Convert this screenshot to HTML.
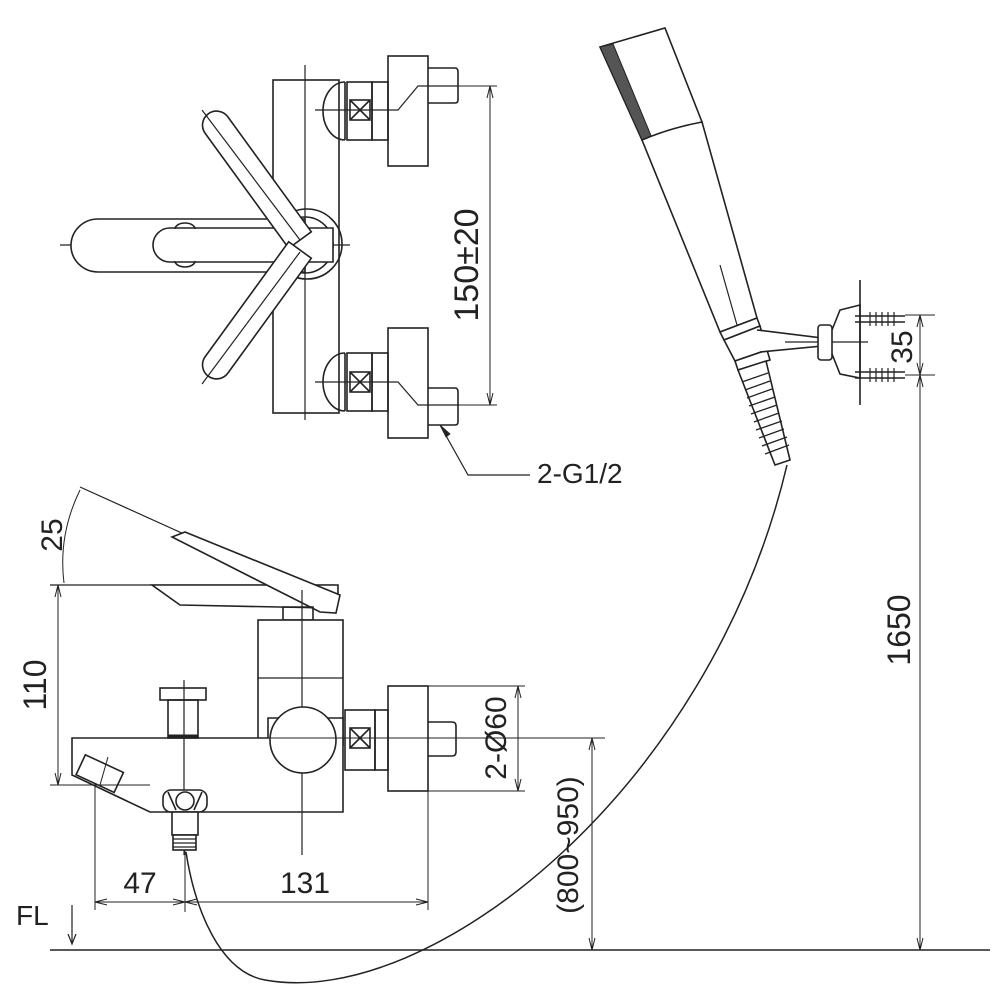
<!DOCTYPE html>
<html><head><meta charset="utf-8"><style>html,body{margin:0;padding:0;background:#fff}svg{display:block}</style></head>
<body>
<svg width="1000" height="1000" viewBox="0 0 1000 1000" xmlns="http://www.w3.org/2000/svg" font-family="Liberation Sans, sans-serif" fill="none" stroke="#222" stroke-width="1.6">
<!-- TOP VIEW -->
<rect x="273" y="80" width="66" height="333"/>
<line x1="305" y1="65" x2="305" y2="420" stroke-width="1.2"/>
<line x1="60" y1="245" x2="350" y2="245" stroke-width="1.2"/>
<path d="M98 219 L305 219 L305 272 L98 272 A27 26.5 0 0 1 98 219 Z" fill="#fff"/>
<circle cx="307" cy="244" r="35"/>
<circle cx="305" cy="245" r="28"/>
<path d="M170 228 L333 228 L333 262 L170 262 A17 17 0 0 1 170 228 Z" fill="#fff"/>
<path d="M175 229 A10 6 0 0 1 195 229" /><path d="M175 261 A10 6 0 0 0 195 261"/>
<!-- diagonal handles -->
<g transform="rotate(54 300 240)"><path d="M158 226 L300 226 L300 254 L158 254 A14 14 0 0 1 158 226 Z" fill="#fff"/></g>
<g transform="rotate(-54 300 250)"><path d="M158 236 L300 236 L300 264 L158 264 A14 14 0 0 1 158 236 Z" fill="#fff"/></g>
<line x1="202" y1="110" x2="300" y2="240" stroke-width="1.2"/>
<line x1="202" y1="384" x2="300" y2="252" stroke-width="1.2"/>
<!-- top valve -->
<path d="M345 82 A22 29 0 0 0 345 140" /><line x1="345" y1="82" x2="345" y2="140"/>
<rect x="347" y="82" width="25" height="58"/><rect x="350" y="100" width="20" height="20"/>
<line x1="350" y1="100" x2="370" y2="120"/><line x1="370" y1="100" x2="350" y2="120"/>
<rect x="372" y="82" width="16" height="58"/>
<rect x="388" y="56" width="40" height="110"/>
<path d="M428 68 L455 68 Q458 68 458 72 L458 100 Q458 103 455 103 L428 103"/>
<polyline points="315,110 398,110 418,86 458,86" stroke-width="1.2"/>
<!-- bottom valve -->
<path d="M345 353 A22 29 0 0 0 345 411" /><line x1="345" y1="353" x2="345" y2="411"/>
<rect x="347" y="353" width="25" height="58"/><rect x="350" y="372" width="20" height="20"/>
<line x1="350" y1="372" x2="370" y2="392"/><line x1="370" y1="372" x2="350" y2="392"/>
<rect x="372" y="353" width="16" height="58"/>
<rect x="388" y="328" width="40" height="110"/>
<path d="M428 388 L455 388 Q458 388 458 392 L458 422 Q458 425 455 425 L428 425"/>
<polyline points="315,382 398,382 418,405 458,405" stroke-width="1.2"/>
<!-- 150 dim -->
<line x1="458" y1="86" x2="497" y2="86" stroke-width="1"/><line x1="458" y1="405" x2="497" y2="405" stroke-width="1"/>
<line x1="490" y1="86" x2="490" y2="405" stroke-width="1"/>
<path d="M487 98 L490 86 L493 98 M487 393 L490 405 L493 393" stroke-width="1"/>
<text x="478" y="265" transform="rotate(-90 478 265)" text-anchor="middle" font-size="34" fill="#222" stroke="none">150±20</text>
<polyline points="440,425 468,475 530,475" stroke-width="1.2"/>
<path d="M440 425 L446 437 L450 434 Z" fill="#222" stroke-width="0.8"/>
<text x="537" y="483" font-size="28" fill="#222" stroke="none">2-G1/2</text>

<!-- SIDE VIEW -->
<line x1="50" y1="585" x2="335" y2="585" stroke-width="1.2"/>
<line x1="80" y1="487" x2="330" y2="600" stroke-width="1.2"/>
<path d="M80 490 Q58 535 64 583" stroke-width="1"/>
<text x="62" y="535" transform="rotate(-90 62 535)" text-anchor="middle" font-size="30" fill="#222" stroke="none">25</text>
<polygon points="152,585 338,585 338,598 328,608 180,605" fill="#fff"/>
<polygon points="172,537 185,532 340,595 336,613 320,612" fill="#fff"/>
<path d="M283 607 L313 607 L313 620 L283 620 Z"/>
<rect x="258" y="620" width="85" height="125" fill="#fff"/>
<line x1="258" y1="678" x2="343" y2="678" stroke-width="1.2"/>
<polygon points="72,738 268,738 268,718 343,718 343,812 150,812 72,775" fill="#fff"/>
<line x1="302" y1="590" x2="302" y2="855" stroke-width="1.2"/>
<circle cx="303" cy="740" r="33" fill="#fff"/>
<rect x="345" y="710" width="30" height="60"/><rect x="350" y="728" width="20" height="20"/>
<line x1="350" y1="728" x2="370" y2="748"/><line x1="370" y1="728" x2="350" y2="748"/>
<rect x="375" y="710" width="13" height="60"/>
<rect x="388" y="686" width="40" height="105"/>
<path d="M428 722 L452 722 Q456 722 456 726 L456 752 Q456 756 452 756 L428 756"/>
<line x1="250" y1="738" x2="605" y2="738" stroke-width="1"/>
<!-- diverter -->
<rect x="160" y="688" width="46" height="12"/>
<rect x="168" y="700" width="30" height="38"/>
<line x1="168" y1="736" x2="198" y2="736" stroke-width="3"/>
<line x1="184" y1="680" x2="184" y2="855" stroke-width="1.2"/>
<rect x="163" y="790" width="44" height="22" rx="8" fill="#fff"/>
<circle cx="185" cy="801" r="9"/><path d="M168 792 L176 810 M202 792 L194 810"/>
<rect x="172" y="812" width="26" height="23" fill="#fff"/>
<rect x="173" y="835" width="23" height="15" fill="#fff"/>
<path d="M173 839 H196 M173 843 H196 M173 847 H196" stroke-width="1.2"/>
<!-- nozzle -->
<g transform="rotate(25 98 775)"><rect x="78" y="762" width="42" height="22" fill="#fff"/></g>
<line x1="108" y1="757" x2="100" y2="785" stroke-width="1"/>
<!-- dims -->
<line x1="50" y1="785" x2="150" y2="785" stroke-width="1"/>
<line x1="58" y1="585" x2="58" y2="785" stroke-width="1"/>
<path d="M55 597 L58 585 L61 597 M55 773 L58 785 L61 773" stroke-width="1"/>
<text x="46" y="685" transform="rotate(-90 46 685)" text-anchor="middle" font-size="32" fill="#222" stroke="none">110</text>
<line x1="95" y1="785" x2="95" y2="910" stroke-width="1"/>
<line x1="185" y1="850" x2="185" y2="912" stroke-width="1"/>
<line x1="428" y1="791" x2="428" y2="910" stroke-width="1"/>
<line x1="95" y1="902" x2="428" y2="902" stroke-width="1"/>
<path d="M107 899 L95 902 L107 905 M173 899 L185 902 L173 905 M197 899 L185 902 L197 905 M416 899 L428 902 L416 905" stroke-width="1"/>
<text x="140" y="893" text-anchor="middle" font-size="30" fill="#222" stroke="none">47</text>
<text x="305" y="893" text-anchor="middle" font-size="30" fill="#222" stroke="none">131</text>
<line x1="428" y1="686" x2="525" y2="686" stroke-width="1"/><line x1="428" y1="791" x2="525" y2="791" stroke-width="1"/>
<line x1="518" y1="686" x2="518" y2="791" stroke-width="1"/>
<path d="M515 698 L518 686 L521 698 M515 779 L518 791 L521 779" stroke-width="1"/>
<text x="506" y="738" transform="rotate(-90 506 738)" text-anchor="middle" font-size="30" fill="#222" stroke="none">2-Ø60</text>
<line x1="592" y1="738" x2="592" y2="950" stroke-width="1"/>
<path d="M589 750 L592 738 L595 750 M589 938 L592 950 L595 938" stroke-width="1"/>
<text x="578" y="845" transform="rotate(-90 578 845)" text-anchor="middle" font-size="30" fill="#222" stroke="none">(800~950)</text>
<text x="16" y="925" font-size="28" fill="#222" stroke="none">FL</text>
<line x1="72" y1="905" x2="72" y2="942" stroke-width="1.2"/><path d="M68 934 L72 944 L76 934" stroke-width="1.2"/>
<line x1="50" y1="950" x2="990" y2="950" stroke-width="1.4"/>
<!-- hose -->
<path d="M787 465 C710 790, 430 1010, 265 980 C220 972, 195 910, 186 852" stroke-width="1.5"/>

<!-- SHOWER -->
<polygon points="600,47 665,28 702,122 642,140" fill="#fff"/>
<polygon points="600,47 613,44 652,138 642,140" fill="#555" stroke-width="1"/>
<path d="M642 140 Q670 128 702 122 L757 318 L720 332 Z" fill="#fff"/>
<line x1="720" y1="265" x2="737" y2="325" stroke-width="1.2"/>
<polygon points="720,332 757,318 760,326 724,340" fill="#fff"/>
<polygon points="724,340 760,326 767,350 735,361" fill="#fff"/>
<polygon points="735,361 767,350 770,360 738,370" fill="#fff"/>
<polygon points="738,370 766,361 790,460 775,465" fill="#fff"/>
<g stroke-width="1.3"><path d="M742 382 L768 373 M745 390 L770 381 M747 398 L772 389 M749 406 L775 397 M751 414 L777 405 M754 422 L779 413 M756 430 L782 421 M759 438 L784 429 M762 446 L787 437 M765 454 L789 445"/></g>
<path d="M757 330 L822 338 L822 346 L760 352" fill="#fff"/>
<line x1="785" y1="342" x2="868" y2="342" stroke-width="1.2"/>
<rect x="818" y="325" width="14" height="35" rx="3" fill="#fff"/>
<path d="M832 330 L840 310 L860 305 L860 378 L840 374 L832 354"/>
<line x1="860" y1="280" x2="860" y2="405"/>
<g stroke-width="1.5"><path d="M855 316 H905 M855 322 H905 M855 372 H905 M855 378 H905"/></g>
<path d="M870 312 v14 M876 312 v14 M882 312 v14 M888 312 v14 M894 312 v14 M870 368 v14 M876 368 v14 M882 368 v14 M888 368 v14 M894 368 v14" stroke-width="1.2"/>
<line x1="905" y1="315" x2="935" y2="315" stroke-width="1"/><line x1="905" y1="375" x2="935" y2="375" stroke-width="1"/>
<line x1="920" y1="315" x2="920" y2="950" stroke-width="1"/>
<path d="M917 327 L920 315 L923 327 M917 363 L920 375 L923 363 M917 387 L920 375 L923 387 M917 938 L920 950 L923 938" stroke-width="1"/>
<text x="912" y="347" transform="rotate(-90 912 347)" text-anchor="middle" font-size="30" fill="#222" stroke="none">35</text>
<text x="910" y="630" transform="rotate(-90 910 630)" text-anchor="middle" font-size="32" fill="#222" stroke="none">1650</text>
</svg>
</body></html>
